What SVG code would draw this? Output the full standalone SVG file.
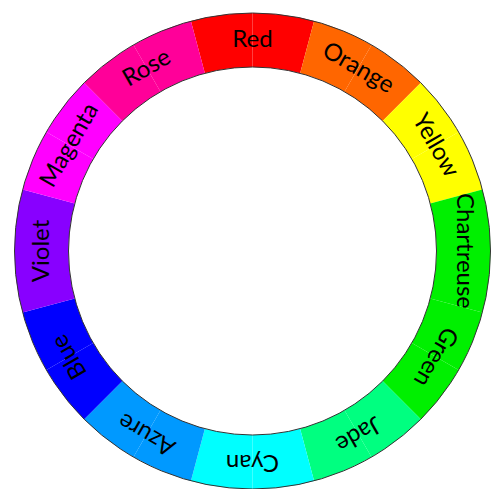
<svg xmlns="http://www.w3.org/2000/svg" xmlns:xlink="http://www.w3.org/1999/xlink" width="500" height="489" viewBox="0 0 500 489">
<style>
text{font-family:Lato,"Open Sans","DejaVu Sans",sans-serif;font-size:24px;fill:#000;text-anchor:middle}
.ring{fill:none;stroke:#333;stroke-width:1}
</style>
<defs>
<path id="wa" d="M -61.599 -229.890 A 238 238 0 0 1 0 -238 L 0 -184 A 184 184 0 0 0 -47.623 -177.730 Z"/>
<path id="wb" d="M 0 -238 A 238 238 0 0 1 61.599 -229.890 L 47.623 -177.730 A 184 184 0 0 0 0 -184 Z"/>
</defs>
<rect width="500" height="489" fill="#fff"/>
<g transform="translate(252.5,251)">
<g id="red" transform="rotate(0)" fill="#ff0000"><use xlink:href="#wa"/><use xlink:href="#wb"/><text x="0" y="-204">Red</text></g>
<g id="orange" transform="rotate(30)" fill="#ff6600"><use xlink:href="#wa"/><use xlink:href="#wb"/><text x="0" y="-204">Orange</text></g>
<g id="yellow" transform="rotate(60)" fill="#ffff00"><use xlink:href="#wa"/><use xlink:href="#wb"/><text x="0" y="-204">Yellow</text></g>
<g id="chartreuse" transform="rotate(90)" fill="#00f000"><use xlink:href="#wa"/><use xlink:href="#wb"/><text x="0" y="-204">Chartreuse</text></g>
<g id="green" transform="rotate(120)" fill="#00f000"><use xlink:href="#wa"/><use xlink:href="#wb"/><text x="0" y="-204">Green</text></g>
<g id="jade" transform="rotate(150)" fill="#00ff80"><use xlink:href="#wa"/><use xlink:href="#wb"/><text x="0" y="-204">Jade</text></g>
<g id="cyan" transform="rotate(180)" fill="#00ffff"><use xlink:href="#wa"/><use xlink:href="#wb"/><text x="0" y="-204">Cyan</text></g>
<g id="azure" transform="rotate(210)" fill="#0099ff"><use xlink:href="#wa"/><use xlink:href="#wb"/><text x="0" y="-204">Azure</text></g>
<g id="blue" transform="rotate(240)" fill="#0000ff"><use xlink:href="#wa"/><use xlink:href="#wb"/><text x="0" y="-204">Blue</text></g>
<g id="violet" transform="rotate(270)" fill="#8800ff"><use xlink:href="#wa"/><use xlink:href="#wb"/><text x="0" y="-204">Violet</text></g>
<g id="magenta" transform="rotate(300)" fill="#ff00ff"><use xlink:href="#wa"/><use xlink:href="#wb"/><text x="0" y="-204">Magenta</text></g>
<g id="rose" transform="rotate(330)" fill="#ff0099"><use xlink:href="#wa"/><use xlink:href="#wb"/><text x="0" y="-204">Rose</text></g>
<g id="outline">
<circle class="ring" cx="0" cy="0" r="238"/>
<circle class="ring" cx="0" cy="0" r="184"/>
</g>
</g>
</svg>
